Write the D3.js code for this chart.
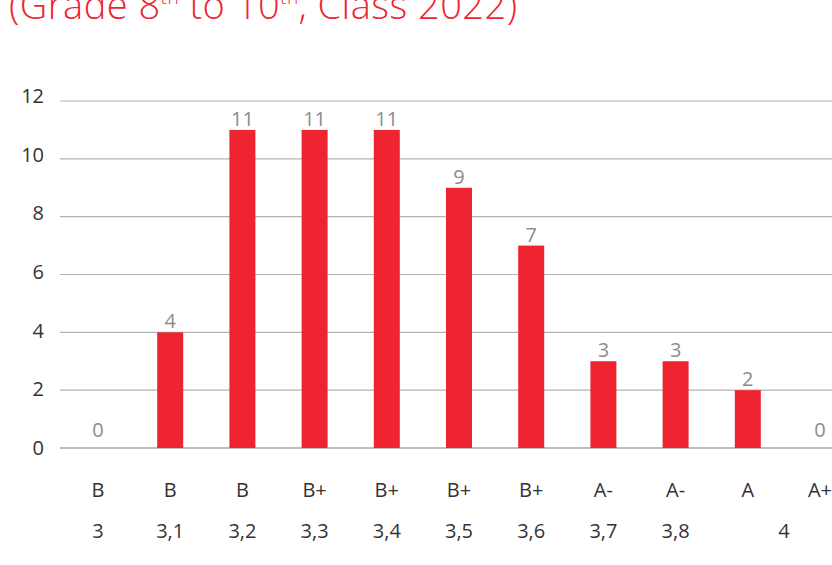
<!DOCTYPE html>
<html>
<head>
<meta charset="utf-8">
<script src="https://cdn.jsdelivr.net/npm/d3@7"></script>
<style>
  body { margin: 0; background: #fff; }
  svg text { font-family: "Open Sans", "Noto Sans", sans-serif; }
</style>
</head>
<body>
<div id="chart"></div>
<script>
// data
const categories = ["3", "3,1", "3,2", "3,3", "3,4", "3,5", "3,6", "3,7", "3,8", "3,9", "4"];
const counts = [0, 4, 11, 11, 11, 9, 7, 3, 3, 2, 0];
const gradeLabels = ["B", "B", "B", "B+", "B+", "B+", "B+", "A-", "A-", "A", "A+"];
// GPA row: last label "4" spans the last two columns
const gpaLabels = ["3", "3,1", "3,2", "3,3", "3,4", "3,5", "3,6", "3,7", "3,8", "4"];
const yTicks = [0, 2, 4, 6, 8, 10, 12];

const width = 832, height = 565;
const red = "#ee2431";

const svg = d3.select("#chart")
  .append("svg")
    .attr("width", width)
    .attr("height", height);

// title (only the lower part sits inside the frame, as in the source)
const title = svg.append("text")
    .attr("x", 9)
    .attr("y", 19)
    .attr("fill", red)
    .style("font-size", "38px")
    .style("font-weight", 300)
    .attr("textLength", 508)
    .attr("lengthAdjust", "spacing");
title.append("tspan").text("(Grade 8");
title.append("tspan").text("th").style("font-size", "19px").attr("dy", -15);
title.append("tspan").text(" to 10").attr("dy", 15);
title.append("tspan").text("th").style("font-size", "19px").attr("dy", -15);
title.append("tspan").text(", Class 2022)").attr("dy", 15);

// scales
const x = d3.scalePoint()
    .domain(categories)
    .range([98, 820]);

const y = d3.scaleLinear()
    .domain([0, 12])
    .range([448, 101]);

// grid lines
svg.append("g")
  .selectAll("line")
  .data(yTicks)
  .enter()
  .append("line")
    .attr("x1", 60)
    .attr("x2", width)
    .attr("y1", d => y(d))
    .attr("y2", d => y(d))
    .attr("stroke", d => d === 0 ? "#bdbdbd" : "#b3b3b3")
    .attr("stroke-width", d => d === 0 ? 2 : 1.2);

// y axis labels
svg.append("g")
  .selectAll("text")
  .data(yTicks)
  .enter()
  .append("text")
    .attr("x", 44)
    .attr("y", d => y(d) + 7 - d * 0.4)
    .attr("text-anchor", "end")
    .attr("fill", "#333")
    .style("font-size", "20px")
    .text(d => d);

// bars
const barW = 26;
svg.append("g")
  .selectAll("rect")
  .data(counts)
  .enter()
  .append("rect")
    .attr("x", (d, i) => x(categories[i]) - barW / 2)
    .attr("y", d => y(d))
    .attr("width", barW)
    .attr("height", d => y(0) - y(d))
    .attr("fill", red);

// value labels
svg.append("g")
  .selectAll("text")
  .data(counts)
  .enter()
  .append("text")
    .attr("x", (d, i) => x(categories[i]))
    .attr("y", d => y(d) - (d === 0 ? 11 : 4))
    .attr("text-anchor", "middle")
    .attr("fill", "#8c8c8c")
    .style("font-size", "20px")
    .text(d => d);

// grade letters row
svg.append("g")
  .selectAll("text")
  .data(gradeLabels)
  .enter()
  .append("text")
    .attr("x", (d, i) => x(categories[i]))
    .attr("y", 497)
    .attr("text-anchor", "middle")
    .attr("fill", "#333")
    .style("font-size", "20px")
    .text(d => d);

// GPA row
svg.append("g")
  .selectAll("text")
  .data(gpaLabels)
  .enter()
  .append("text")
    .attr("x", (d, i) => i < gpaLabels.length - 1
        ? x(categories[i])
        : (x(categories[i]) + x(categories[i + 1])) / 2)
    .attr("y", 538)
    .attr("text-anchor", "middle")
    .attr("fill", "#333")
    .style("font-size", "20px")
    .text(d => d);
</script>
</body>
</html>
